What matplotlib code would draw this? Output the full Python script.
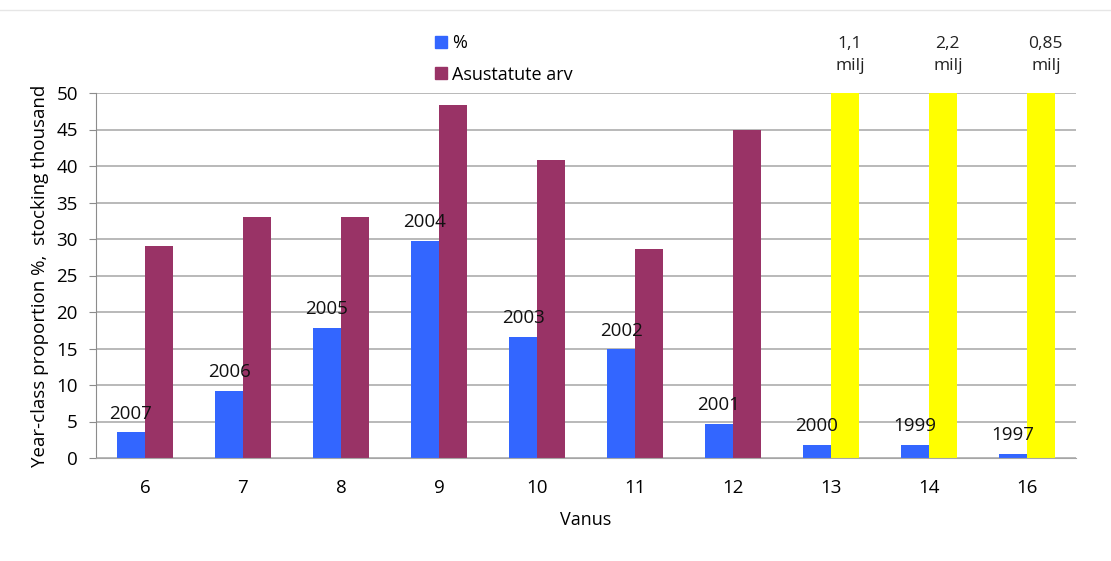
import numpy as np
import matplotlib.pyplot as plt
from matplotlib.lines import Line2D

plt.rcParams['font.family'] = ['Open Sans', 'DejaVu Sans']

ages = ['6', '7', '8', '9', '10', '11', '12', '13', '14', '16']
share_pct = [3.5, 9.2, 17.8, 29.7, 16.6, 14.9, 4.7, 1.8, 1.8, 0.6]
year_class = ['2007', '2006', '2005', '2004', '2003', '2002', '2001', '2000', '1999', '1997']
stocked = [29.0, 33.0, 33.0, 48.4, 40.8, 28.6, 45.0, None, None, None]
# stocking in thousands for the older classes (off the scale)
stocked_big = [None, None, None, None, None, None, None, 1100, 2200, 850]
big_labels = ['1,1\nmilj', '2,2\nmilj', '0,85\nmilj']

blue = '#3366ff'
plum = '#993366'
yellow = '#ffff00'

fig = plt.figure(figsize=(11.11, 5.61), dpi=100)
ax = fig.add_axes([96 / 1111, 1 - 458 / 561, 980 / 1111, 365 / 561])

x = np.arange(len(ages))
w = 0.285
ax.bar(x - w / 2, share_pct, w, color=blue, zorder=2)
ax.bar(x + w / 2, [v if v is not None else 0 for v in stocked], w, color=plum, zorder=2)
ax.bar(x + w / 2, [v if v is not None else 0 for v in stocked_big], w, color=yellow, zorder=2)

for xi, v, lab in zip(x, share_pct, year_class):
    ax.annotate(lab, (xi - w / 2, v), xytext=(0, 7), textcoords='offset points',
                ha='center', va='bottom', fontsize=13.5, color='#111111', zorder=3)

big_x = [xi for xi, v in zip(x, stocked_big) if v is not None]
for xi, lab in zip(big_x, big_labels):
    ax.annotate(lab, (xi + w / 2 + 0.05, 50), xytext=(0, 14), textcoords='offset points',
                ha='center', va='bottom', fontsize=12.5, color='#222222',
                linespacing=1.45, annotation_clip=False)

ax.set_ylim(0, 50)
ax.set_xlim(-0.5, len(ages) - 0.5)
ax.set_yticks(range(0, 51, 5))
ax.set_xticks(x)
ax.set_xticklabels(ages)
ax.yaxis.grid(True, color='#a6a6a6', lw=1.1, zorder=0)
ax.set_axisbelow(True)
for s in ['top', 'right']:
    ax.spines[s].set_visible(False)
ax.spines['left'].set_color('#8c8c8c')
ax.spines['bottom'].set_color('#a6a6a6')
ax.tick_params(axis='y', length=5, color='#8c8c8c', labelsize=13.5, pad=8)
ax.tick_params(axis='x', length=0, labelsize=13.5, pad=15)
ax.set_xlabel('Vanus', fontsize=13, labelpad=10)
ax.set_ylabel('Year-class proportion %,  stocking thousand', fontsize=13.5, labelpad=5)

handles = [Line2D([], [], marker='s', ls='', color=blue, markersize=9),
           Line2D([], [], marker='s', ls='', color=plum, markersize=9)]
fig.legend(handles, ['%', 'Asustatute arv'], loc='upper left',
           bbox_to_anchor=(414 / 1111, 1 - 18 / 561), frameon=False,
           fontsize=13, handletextpad=0.0, labelspacing=0.75, handlelength=1.2)

fig.add_artist(Line2D([0, 1], [1 - 10 / 561, 1 - 10 / 561], color='#e6e6e6', lw=1))

fig.savefig('out.png', dpi=100)
